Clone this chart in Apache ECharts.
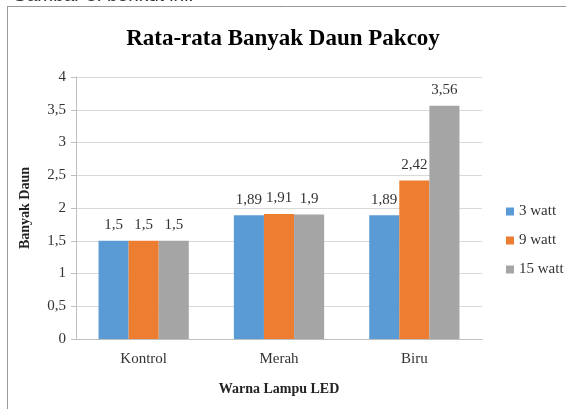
<!DOCTYPE html>
<html>
<head>
<meta charset="utf-8">
<script src="https://cdn.jsdelivr.net/npm/echarts@6/dist/echarts.min.js"></script>
<style>
	html, body { margin: 0; padding: 0; background: #fff; }
	#chart { width: 566px; height: 409px; }
</style>
</head>
<body>
<div id="chart"></div>
<script>
	// data
	var categories = ['Kontrol', 'Merah', 'Biru'];
	var seriesNames = ['3 watt', '9 watt', '15 watt'];
	var watt3 = [1.5, 1.89, 1.89];
	var watt9 = [1.5, 1.91, 2.42];
	var watt15 = [1.5, 1.9, 3.56];
	var colors = ['#5b9bd5', '#ed7d31', '#a5a5a5'];

	var serif = '"Liberation Serif", "DejaVu Serif", serif';
	function comma(v) { return String(v).replace('.', ','); }

	function bar(name, data) {
		return {
			name: name,
			type: 'bar',
			data: data,
			barGap: 0,
			barCategoryGap: '33.3%',
			label: {
				show: true,
				position: 'top',
				distance: 8,
				fontFamily: serif,
				fontSize: 15,
				color: '#333',
				formatter: function (p) { return comma(p.value); }
			}
		};
	}

	var chart = echarts.init(document.getElementById('chart'));
	chart.setOption({
		animation: false,
		color: colors,
		textStyle: { fontFamily: serif },
		title: {
			text: 'Rata-rata Banyak Daun Pakcoy',
			left: 'center',
			top: 23,
			textStyle: { fontFamily: serif, fontWeight: 'bold', fontSize: 23, color: '#000' }
		},
		graphic: [
			{ type: 'text', left: 12, top: -14, style: { text: 'Gambar 8. berikut ini.', font: '19px "Liberation Sans"', fill: '#333' } },
			{ type: 'line', shape: { x1: 7, y1: 6.5, x2: 566, y2: 6.5 }, style: { stroke: '#999', lineWidth: 1 } },
			{ type: 'line', shape: { x1: 7.5, y1: 6, x2: 7.5, y2: 409 }, style: { stroke: '#999', lineWidth: 1 } }
		],
		legend: {
			orient: 'vertical',
			left: 501,
			top: 199,
			itemWidth: 8,
			itemHeight: 8,
			itemGap: 14,
			icon: 'rect',
			data: seriesNames,
			textStyle: { fontFamily: serif, fontSize: 15, color: '#333' }
		},
		grid: { left: 76, right: 84, top: 77, bottom: 70 },
		xAxis: {
			type: 'category',
			data: categories,
			name: 'Warna Lampu LED',
			nameLocation: 'middle',
			nameGap: 43,
			nameTextStyle: { fontFamily: serif, fontWeight: 'bold', fontSize: 14, color: '#222' },
			axisLine: { lineStyle: { color: '#bfbfbf' } },
			axisTick: { show: false },
			axisLabel: { fontFamily: serif, fontSize: 15, color: '#333', margin: 13 }
		},
		yAxis: {
			type: 'value',
			min: 0,
			max: 4,
			interval: 0.5,
			name: 'Banyak Daun',
			nameLocation: 'middle',
			nameGap: 44,
			nameTextStyle: { fontFamily: serif, fontWeight: 'bold', fontSize: 14, color: '#222' },
			axisLine: { show: true, lineStyle: { color: '#bfbfbf' } },
			axisTick: { show: true, length: 5, lineStyle: { color: '#bfbfbf' } },
			splitLine: { lineStyle: { color: '#d9d9d9' } },
			axisLabel: { fontFamily: serif, fontSize: 15, color: '#333', margin: 10, formatter: comma }
		},
		series: [
			bar(seriesNames[0], watt3),
			bar(seriesNames[1], watt9),
			bar(seriesNames[2], watt15)
		]
	});
</script>
</body>
</html>
